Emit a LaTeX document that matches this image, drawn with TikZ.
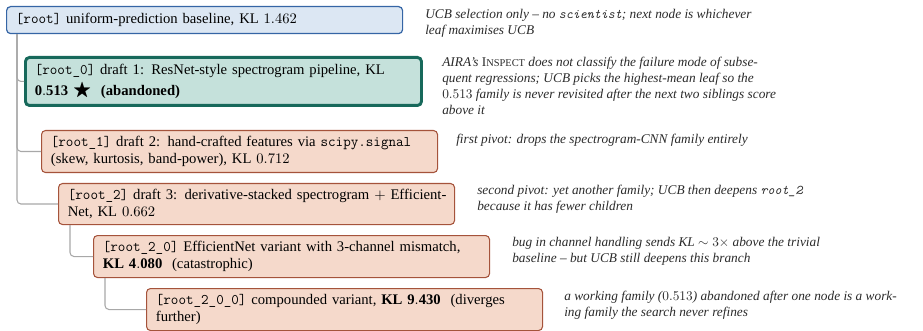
\documentclass[tikz,border=0pt]{standalone}
\usepackage{amsmath,amssymb}
\usepackage{fontspec}
\setmainfont{Liberation Serif}
\usetikzlibrary{positioning}

\definecolor{rootfill}{HTML}{DCE7F3}
\definecolor{rootline}{HTML}{3565A5}
\definecolor{bestfill}{HTML}{C5E1DB}
\definecolor{bestline}{HTML}{17695B}
\definecolor{nodefill}{HTML}{F5D9CB}
\definecolor{nodeline}{HTML}{A5533B}
\definecolor{connline}{HTML}{A8A8A8}
\definecolor{notetext}{HTML}{2A2A2A}

\newcommand{\fakesc}[2]{{\upshape #1{\fontsize{7.8}{9}\selectfont #2}}}

\tikzset{
  treebox/.style={anchor=north west, rounded corners=3pt, align=left,
    text width=283pt, inner xsep=7pt, inner ysep=0pt,
    font=\fontsize{11}{13}\selectfont},
  rootbox/.style={treebox, draw=rootline, fill=rootfill, line width=0.9pt},
  bestbox/.style={treebox, draw=bestline, fill=bestfill, line width=2.2pt},
  plainbox/.style={treebox, draw=nodeline, fill=nodefill, line width=0.8pt},
  note/.style={anchor=north west, inner sep=0pt, align=left,
    font=\fontsize{10}{12}\selectfont\itshape, text=notetext},
  conn/.style={draw=connline, line width=0.8pt, rounded corners=3pt}
}

\begin{document}
\begin{tikzpicture}[x=0.75pt,y=-0.75pt]
\useasboundingbox (0,0) rectangle (923,331);

% search tree nodes
\node[rootbox, minimum height=27*0.75pt] (root) at (6,6)
  {\texttt{[root]} uniform-prediction baseline, KL $1.462$};
\node[bestbox, minimum height=48*0.75pt] (r0) at (24,56)
  {\mbox{\texttt{[root\_0]} draft 1: ResNet-style spectrogram pipeline, KL}\\[3pt]
   $\mathbf{0.513}$ {\Large$\bigstar$}\ \ \textbf{(abandoned)}};
\node[plainbox, minimum height=42*0.75pt] (r1) at (41,130)
  {\mbox{\texttt{[root\_1]} draft 2: hand-crafted features via \texttt{scipy.signal}}\\
   (skew, kurtosis, band-power), KL $0.712$};
\node[plainbox, minimum height=41*0.75pt] (r2) at (58,183)
  {\mbox{\texttt{[root\_2]} draft 3: derivative-stacked spectrogram $+$ Efficient-}\\
   Net, KL $0.662$};
\node[plainbox, minimum height=42*0.75pt] (r20) at (93,235)
  {\mbox{\texttt{[root\_2\_0]} EfficientNet variant with 3-channel mismatch,}\\
   \textbf{KL $\mathbf{4.080}$}\ \ (catastrophic)};
\node[plainbox, minimum height=42*0.75pt] (r200) at (146,288)
  {\mbox{\texttt{[root\_2\_0\_0]} compounded variant, \textbf{KL $\mathbf{9.430}$}\ \ (diverges}\\
   further)};

% parent-child connectors
\draw[conn] ([xshift=8.25pt]root.south west) |- (r0.west);
\draw[conn] ([xshift=8.25pt]root.south west) |- (r1.west);
\draw[conn] ([xshift=8.25pt]root.south west) |- (r2.west);
\draw[conn] ([xshift=9pt]r2.south west) |- (r20.west);
\draw[conn] ([xshift=9pt]r20.south west) |- (r200.west);

% side notes
\node[note] (n0) at (425,9)
  {UCB selection only -- no \texttt{scientist}; next node is whichever\\
   leaf maximises UCB};
\node[note] (n1) at (442,57)
  {AIRA’s \fakesc{I}{NSPECT} does not classify the failure mode of subse-\\
   quent regressions; UCB picks the highest-mean leaf so the\\
   $0.513$ family is never revisited after the next two siblings score\\
   above it};
\node[note] (n2) at (456,134)
  {first pivot: drops the spectrogram-CNN family entirely};
\node[note] (n3) at (477,185)
  {second pivot: yet another family; UCB then deepens \texttt{root\_2}\\
   because it has fewer children};
\node[note] (n4) at (512,237)
  {bug in channel handling sends KL $\sim 3\times$ above the trivial\\
   baseline -- but UCB still deepens this branch};
\node[note] (n5) at (564,291)
  {a working family ($0.513$) abandoned after one node is a work-\\
   ing family the search never refines};
\end{tikzpicture}
\end{document}
